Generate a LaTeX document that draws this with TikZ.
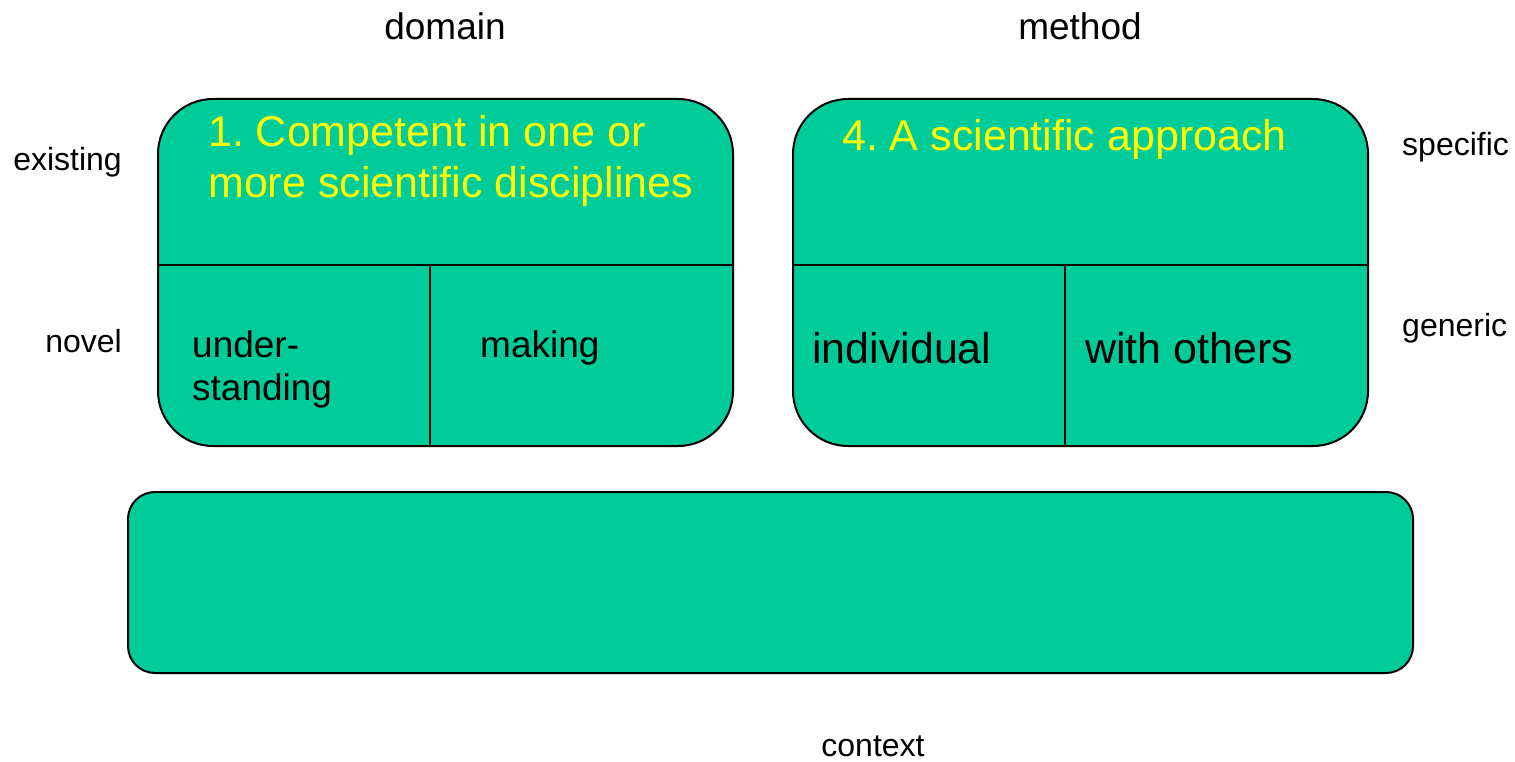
\documentclass[tikz,border=0pt]{standalone}
\usepackage{fontspec}
\setmainfont{Liberation Sans}
\frenchspacing
\definecolor{boxgreen}{HTML}{00CC99}
\definecolor{ytext}{HTML}{FFFF00}
\tikzset{
  panel/.style={draw=black, line width=2pt, fill=boxgreen, inner sep=0pt},
  divider/.style={draw=black, line width=2pt},
  lbl/.style={inner sep=0pt, font=\fontsize{32}{38}\selectfont},
  axis/.style={inner sep=0pt, font=\fontsize{37}{44}\selectfont},
  cell/.style={inner sep=0pt, font=\fontsize{37}{43}\selectfont, align=left},
  bigcell/.style={inner sep=0pt, font=\fontsize{43}{52}\selectfont},
  title/.style={inner sep=0pt, text=ytext, font=\fontsize{43}{52}\selectfont, align=left},
}
\begin{document}
\begin{tikzpicture}[x=1pt,y=-1pt]
\useasboundingbox (0,0) rectangle (1515,762);
% panels
\node[panel, rounded corners=55pt, minimum width=575pt, minimum height=347pt] (A) at (445.5,272.5) {};
\node[panel, rounded corners=55pt, minimum width=575pt, minimum height=347pt] (B) at (1080.5,272.5) {};
\node[panel, rounded corners=27pt, minimum width=1285pt, minimum height=181pt] (C) at (770.5,582.5) {};
% dividers
\coordinate (Al) at (158,265); \coordinate (Ar) at (733,265);
\coordinate (At) at (430,265); \coordinate (Ab) at (430,446);
\coordinate (Bl) at (793,265); \coordinate (Br) at (1368,265);
\coordinate (Bt) at (1065,265); \coordinate (Bb) at (1065,446);
\draw[divider] (Al) -- (Ar);
\draw[divider] (At) -- (Ab);
\draw[divider] (Bl) -- (Br);
\draw[divider] (Bt) -- (Bb);
% axis labels
\node[axis, anchor=base] (domain) at (445,40) {domain};
\node[axis, anchor=base] (method) at (1080,40) {method};
\node[lbl, anchor=base] (context) at (873,756) {context};
\node[lbl, anchor=base east] (existing) at (122,171) {existing};
\node[lbl, anchor=base east] (novel) at (122,352) {novel};
\node[lbl, anchor=base west] (specific) at (1402,156) {specific};
\node[lbl, anchor=base west] (generic) at (1402,336) {generic};
% titles
\node[title, anchor=base west] (t1a) at (208,147) {1. Competent in one or};
\node[title, anchor=base west] (t1b) at (208,198) {more scientific disciplines};
\node[title, anchor=base west] (t4) at (842,151) {4. A scientific approach};
% cells
\node[cell, anchor=base west] (und1) at (192,357) {under-};
\node[cell, anchor=base west] (und2) at (192,400) {standing};
\node[cell, anchor=base west] (making) at (480,357) {making};
\node[bigcell, anchor=base west] (indiv) at (812,363) {individual};
\node[bigcell, anchor=base west] (others) at (1085,363) {with others};
\end{tikzpicture}
\end{document}
